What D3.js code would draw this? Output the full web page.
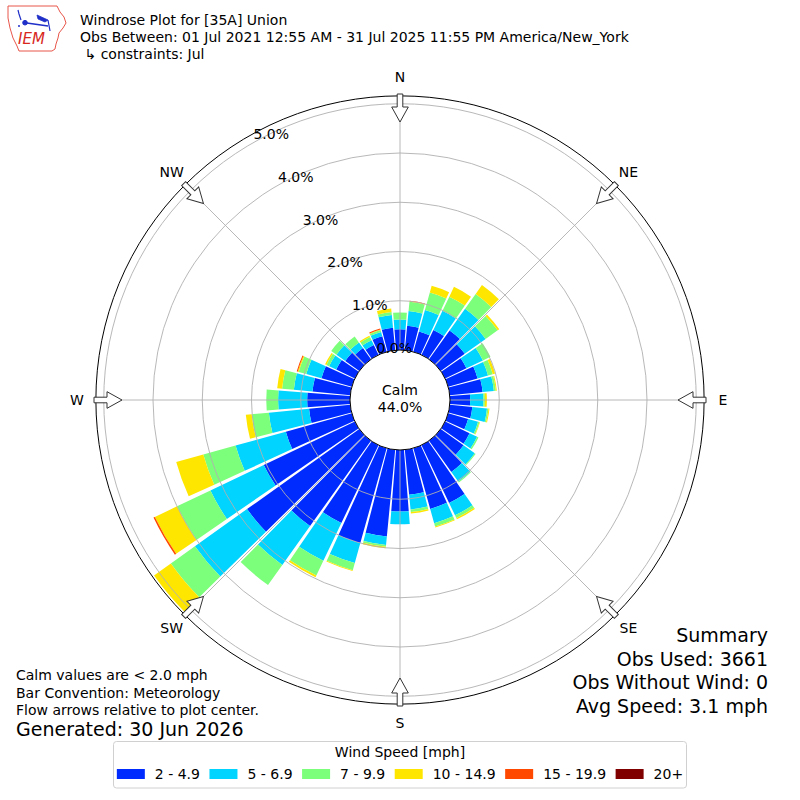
<!DOCTYPE html>
<html><head><meta charset="utf-8">
<script src="https://cdn.jsdelivr.net/npm/d3@7"></script>
<style>
body{margin:0;background:#fff}
svg{display:block}
text{font-family:"DejaVu Sans",sans-serif;fill:#000}
</style>
</head><body><div id="chart"></div>
<script>
// ---------------- data ----------------
const directions = [0,10,20,30,40,50,60,70,80,90,100,110,120,130,140,150,160,170,
                    180,190,200,210,220,230,240,250,260,270,280,290,300,310,320,330,340,350];
const speedBins = ["2 - 4.9","5 - 6.9","7 - 9.9","10 - 14.9","15 - 19.9","20+"];
const binColors = ["rgb(0,43,255)","rgb(0,212,255)","rgb(124,255,122)","rgb(255,230,0)","rgb(255,72,0)","rgb(128,0,0)"];
// percent of observations per direction, per speed bin
const pct_2_49   = [.42,.50,.43,.56,.72,.60,.48,.62,.67,.41,.46,.42,.55,.57,.78,1.30,1.28,.92,
                    1.25,1.77,2.00,1.75,2.13,2.80,2.05,1.39,.84,.87,.77,.64,.42,.35,.28,.22,.33,.46];
const pct_5_69   = [.20,.30,.45,.43,.54,.52,.37,.22,.23,.27,.30,.21,.17,.28,.24,.28,.30,.30,
                    .26,.17,.42,.85,.97,1.30,1.20,1.06,.82,.59,.38,.32,.16,.22,.14,.11,.09,.26];
const pct_7_99   = [.14,.19,.37,.32,.37,.30,.17,.10,.04,.03,.03,.03,.03,.02,.02,.06,.07,.05,
                    0,.04,.15,.33,.50,.60,.75,.68,.35,.24,.24,.16,.06,.13,.15,.07,.04,.06];
const pct_10_149 = [0,.01,.14,.22,.22,.04,0,.05,.02,.04,.02,.01,0,0,0,.03,.02,.03,
                    0,.03,.02,.04,0,.42,.50,.57,.12,0,.10,.02,.03,0,0,.03,.01,.07];
const pct_15_199 = [0,.01,0,0,0,0,0,0,0,0,0,0,0,0,0,0,0,0,
                    0,0,0,0,0,0,.03,0,0,0,0,.02,0,0,0,0,.02,0];
const pct_20p    = [0,0,0,0,0,0,0,0,0,0,0,0,0,0,0,0,0,0,
                    0,0,0,0,0,0,0,0,0,0,0,0,0,0,0,0,0,0];
const series = [pct_2_49,pct_5_69,pct_7_99,pct_10_149,pct_15_199,pct_20p];

const ringTicks = [0,1,2,3,4,5];
const ringLabels = ["0.0%","1.0%","2.0%","3.0%","4.0%","5.0%"];
const compassLabels = ["N","NE","E","SE","S","SW","W","NW"];
const compassAngles = [0,45,90,135,180,225,270,315];

const titleLines = ["Windrose Plot for [35A] Union",
  "Obs Between: 01 Jul 2021 12:55 AM - 31 Jul 2025 11:55 PM America/New_York",
  " \u21b3 constraints: Jul"];
const noteLines = ["Calm values are < 2.0 mph","Bar Convention: Meteorology","Flow arrows relative to plot center."];
const generatedText = "Generated: 30 Jun 2026";
const summaryLines = ["Summary","Obs Used: 3661","Obs Without Wind: 0","Avg Speed: 3.1 mph"];
const calmPct = "44.0%";
const legendTitle = "Wind Speed [mph]";

// ---------------- layout ----------------
const W = 800, H = 800, cx = 400, cy = 400;
const rMaxPct = 5.16;
const r = d3.scaleLinear().domain([0, 5]).range([50, 296.25]);
const rad = d => d * Math.PI / 180;
const barWidthDeg = 9;

const svg = d3.select("#chart").append("svg").attr("width", W).attr("height", H);
const g = svg.append("g").attr("transform", `translate(${cx},${cy})`);

// bars (stacked)
const stacks = directions.map((d, i) => {
  let acc = 0;
  return series.map((s, k) => { const lo = acc; acc += s[i]; return {dir: d, k, lo, hi: acc}; });
}).flat().filter(e => e.hi > e.lo);

const arc = d3.arc()
  .innerRadius(e => r(e.lo)).outerRadius(e => r(e.hi))
  .startAngle(e => rad(e.dir - barWidthDeg / 2)).endAngle(e => rad(e.dir + barWidthDeg / 2));

g.append("g").selectAll("path").data(stacks).join("path")
  .attr("d", arc).attr("fill", e => binColors[e.k]);

// grid
const grid = g.append("g").attr("fill", "none").attr("stroke", "#b0b0b0").attr("stroke-width", 0.9);
grid.selectAll("circle").data(ringTicks.slice(1)).join("circle").attr("r", d => r(d));
grid.selectAll("line").data(compassAngles).join("line")
  .attr("x1", a => r(0) * Math.sin(rad(a))).attr("y1", a => -r(0) * Math.cos(rad(a)))
  .attr("x2", a => r(rMaxPct) * Math.sin(rad(a))).attr("y2", a => -r(rMaxPct) * Math.cos(rad(a)));

// outer circle
g.append("circle").attr("r", r(rMaxPct)).attr("fill", "none").attr("stroke", "#000").attr("stroke-width", 1);

// calm circle
g.append("circle").attr("r", r(0)).attr("fill", "#fff").attr("stroke", "#000").attr("stroke-width", 1);
g.append("text").attr("x", 0).attr("y", -5).attr("text-anchor", "middle").attr("font-size", 14).text("Calm");
g.append("text").attr("x", 0).attr("y", 12).attr("text-anchor", "middle").attr("font-size", 14).text(calmPct);

// ring labels, along 330 deg
const labAng = rad(330);
g.append("g").selectAll("text").data(ringTicks).join("text")
  .attr("x", (d) => r(d) * Math.sin(labAng) + 1.5)
  .attr("y", (d) => -r(d) * Math.cos(labAng) - 4)
  .attr("font-size", 14).text((d, i) => ringLabels[i]);

// arrows
const arrowPath = "M-2.8,-306 L2.8,-306 L2.8,-293 L8.3,-293 L0,-278 L-8.3,-293 L-2.8,-293 Z";
g.append("g").selectAll("path").data(compassAngles).join("path")
  .attr("d", arrowPath).attr("transform", a => `rotate(${a})`)
  .attr("fill", "#fff").attr("stroke", "#333").attr("stroke-width", 1);

// compass labels
const rLab = 323;
g.append("g").selectAll("text").data(compassAngles).join("text")
  .attr("x", a => rLab * Math.sin(rad(a)))
  .attr("y", a => -rLab * Math.cos(rad(a)) + 5)
  .attr("text-anchor", "middle").attr("font-size", 14)
  .text((a, i) => compassLabels[i]);

// title
svg.append("g").selectAll("text").data(titleLines).join("text")
  .attr("x", 80).attr("y", (d, i) => 25 + i * 17).attr("font-size", 14)
  .attr("xml:space", "preserve").style("white-space", "pre").text(d => d);

// logo
const logo = svg.append("g");
logo.append("path")
  .attr("d", "M8,6 L57,6 L60,12 L64,17 L66,23 L63,28 L59,33 L58,38 L56,44 L55,49 L52,51 L19,51 L17,46 L13,38 L10,28 L8,18 Z")
  .attr("fill", "#fff").attr("stroke", "#e8564a").attr("stroke-width", 1);
logo.append("text").attr("x", 18).attr("y", 44).attr("font-family", "Liberation Serif").attr("font-style", "italic")
  .attr("font-size", 15).style("fill", "#d8281e").text("IEM");
const barb = logo.append("g").attr("stroke", "#1f2fc8").attr("fill", "#1f2fc8");
barb.append("path").attr("d", "M18,10 L19,14 L21,20").attr("fill", "none").attr("stroke-width", 1.2);
barb.append("line").attr("x1", 25).attr("y1", 22.7).attr("x2", 48).attr("y2", 26).attr("stroke-width", 1.6);
barb.append("circle").attr("cx", 25).attr("cy", 22.7).attr("r", 2.3);
barb.append("path").attr("d", "M37,15 L48,20 L45,22 L38,19 Z").attr("stroke-width", 0.8);
barb.append("line").attr("x1", 48).attr("y1", 20).attr("x2", 50).attr("y2", 31).attr("stroke-width", 1.2);
barb.append("circle").attr("cx", 19).attr("cy", 26).attr("r", 1).attr("stroke", "none");

// notes
svg.append("g").selectAll("text").data(noteLines).join("text")
  .attr("x", 16).attr("y", (d, i) => 680 + i * 17.5).attr("font-size", 14).text(d => d);
svg.append("text").attr("x", 16).attr("y", 736).attr("font-size", 19).text(generatedText);

// summary
svg.append("g").selectAll("text").data(summaryLines).join("text")
  .attr("x", 768).attr("y", (d, i) => 642 + i * 23.5).attr("text-anchor", "end")
  .attr("font-size", 19).text(d => d);

// legend
const leg = svg.append("g");
leg.append("rect").attr("x", 113.5).attr("y", 741.5).attr("width", 573).attr("height", 46.5)
  .attr("rx", 3).attr("fill", "#fff").attr("stroke", "#d0d0d0").attr("stroke-width", 1);
leg.append("text").attr("x", 400).attr("y", 757).attr("text-anchor", "middle").attr("font-size", 14).text(legendTitle);
const items = leg.append("g");
let xPos = 0;
speedBins.forEach((lab, i) => {
  items.append("rect").attr("x", xPos).attr("y", 769).attr("width", 28).attr("height", 10).attr("fill", binColors[i]);
  const t = items.append("text").attr("x", xPos + 38).attr("y", 779).attr("font-size", 14).text(lab);
  xPos = xPos + 38 + t.node().getComputedTextLength() + 9.5;
});
const totalW = xPos - 9.5;
items.attr("transform", `translate(${400 - totalW / 2},0)`);
</script>
</body></html>
